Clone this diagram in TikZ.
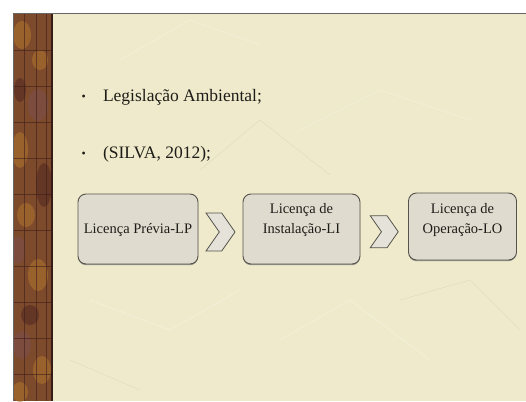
\documentclass[tikz,border=0pt]{standalone}
\usepackage{fontspec}
\setmainfont{Liberation Serif}
\usetikzlibrary{shapes.symbols,calc,shadows}

\definecolor{fundo}{HTML}{EEEACB}
\definecolor{caixa}{HTML}{DFDBCF}
\definecolor{borda}{HTML}{55534B}
\definecolor{texto}{HTML}{1E1C18}
\definecolor{madeira}{HTML}{7E4A2C}
\definecolor{laranja}{HTML}{B0742C}
\definecolor{escuro}{HTML}{4E2620}
\definecolor{malva}{HTML}{7C4E4E}

\tikzset{
  licenca/.style={draw=borda, line width=0.9pt, fill=caixa, rounded corners=8pt,
    inner sep=0pt, drop shadow={shadow xshift=0pt, shadow yshift=-1.2pt, fill=black!55, opacity=0.7}},
  seta/.style={signal, signal to=east, signal from=west, signal pointer angle=110,
    draw=borda, line width=0.8pt, fill=caixa!80!white, inner sep=0pt},
  rotulo/.style={text=texto, font=\fontsize{14.5}{20}\selectfont, align=center},
  topico/.style={text=texto, font=\fontsize{17.5}{21}\selectfont, anchor=base west},
  grade/.style={escuro!80!black, line width=0.5pt, opacity=0.6},
  mancha/.style={opacity=0.55},
}

\begin{document}
\begin{tikzpicture}[x=1pt,y=-1pt]
    % Definição dos textos
    \def\licA{Licença Prévia-LP}
    \def\licB{Licença de\\Instalação-LI}
    \def\licC{Licença de\\Operação-LO}

    \useasboundingbox (0,0) rectangle (526,401);
    \fill[white] (0,0) rectangle (526,401);

    % Fundo do slide
    \fill[fundo] (13,14) rectangle (526,401);
    \draw[white, opacity=0.35, line width=0.6pt] (120,60) -- (190,20) -- (260,45);
    \draw[white, opacity=0.35, line width=0.6pt] (300,130) -- (380,90) -- (470,120);
    \draw[white, opacity=0.35, line width=0.6pt] (90,300) -- (170,330) -- (240,290);
    \draw[white, opacity=0.35, line width=0.6pt] (280,340) -- (350,300) -- (430,360);
    \draw[black, opacity=0.06, line width=0.5pt] (200,170) -- (260,120) -- (330,175);
    \draw[black, opacity=0.06, line width=0.5pt] (400,300) -- (470,280) -- (520,330);
    \draw[black, opacity=0.06, line width=0.5pt] (70,360) -- (140,390);

    % Faixa lateral
    \begin{scope}
      \clip (13,14) rectangle (52,401);
      \fill[madeira] (13,14) rectangle (52,401);
      \fill[laranja, mancha] (22,35) ellipse (9 and 14);
      \fill[laranja, mancha] (40,60) ellipse (8 and 10);
      \fill[malva, mancha] (38,105) ellipse (10 and 16);
      \fill[escuro, mancha] (20,90) ellipse (6 and 12);
      \fill[laranja, mancha] (20,150) ellipse (8 and 18);
      \fill[escuro, mancha] (44,185) ellipse (8 and 22);
      \fill[laranja, mancha] (26,215) ellipse (9 and 12);
      \fill[malva, mancha] (18,250) ellipse (7 and 14);
      \fill[laranja, mancha] (38,275) ellipse (10 and 16);
      \fill[escuro, mancha] (30,315) ellipse (9 and 10);
      \fill[malva, mancha] (22,345) ellipse (9 and 14);
      \fill[laranja, mancha] (42,370) ellipse (9 and 14);
      \fill[laranja, mancha] (20,392) ellipse (8 and 10);
      % Linhas da grade
      \draw[grade] (24,14) -- (24,401);
      \draw[grade] (36,14) -- (36,401);
      \draw[grade] (46,14) -- (46,401);
      \draw[grade] (13,50) -- (52,50);
      \draw[grade] (13,86) -- (52,86);
      \draw[grade] (13,122) -- (52,122);
      \draw[grade] (13,158) -- (52,158);
      \draw[grade] (13,194) -- (52,194);
      \draw[grade] (13,230) -- (52,230);
      \draw[grade] (13,266) -- (52,266);
      \draw[grade] (13,302) -- (52,302);
      \draw[grade] (13,338) -- (52,338);
      \draw[grade] (13,374) -- (52,374);
    \end{scope}
    \draw[escuro!70!black, line width=1.2pt] (52,14) -- (52,401);
    \draw[black!60, line width=1pt] (13,401) -- (13,14) -- (526,14);

    % Tópicos
    \node[topico, font=\fontsize{12}{12}\selectfont] (marcaA) at (78,100) {\textbullet};
    \node[topico] (legislacao) at (99.5,101) {Legislação Ambiental;};
    \node[topico, font=\fontsize{12}{12}\selectfont] (marcaB) at (78,157) {\textbullet};
    \node[topico] (silva) at (99.5,158) {(SILVA, 2012);};

    % Caixas das licenças
    \node[licenca, minimum width=120pt, minimum height=70pt] (lp) at (138,229) {};
    \node[licenca, minimum width=117pt, minimum height=70pt] (li) at (301.5,229) {};
    \node[licenca, minimum width=108pt, minimum height=67pt] (lo) at (462.5,226.5) {};

    \node[rotulo] (lpTexto) at ($(lp.center)+(0,1)$) {\licA};
    \node[rotulo] (liTexto) at ($(li.center)+(0,-9)$) {\licB};
    \node[rotulo] (loTexto) at ($(lo.center)+(0,-6)$) {\licC};

    % Setas entre as caixas
    \node[seta, minimum width=29pt, minimum height=38pt] (setaA) at ($(lp.east)!0.5!(li.west)+(0,3)$) {};
    \node[seta, minimum width=28pt, minimum height=32pt] (setaB) at ($(li.east)!0.5!(lo.west)+(0,4)$) {};
\end{tikzpicture}
\end{document}
